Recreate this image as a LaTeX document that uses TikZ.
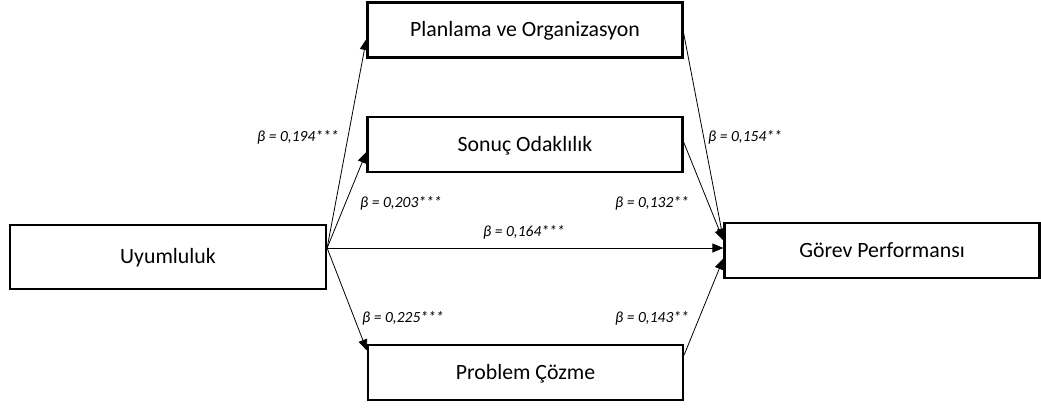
\documentclass[tikz,border=0pt]{standalone}
\usepackage{fontspec}
\setmainfont{Carlito}
\usetikzlibrary{arrows.meta}
\begin{document}
\begin{tikzpicture}[x=1pt,y=-1pt,
  box/.style={draw, line width=2.2pt, inner sep=0pt, minimum width=315pt, minimum height=55pt, text height=14pt, text depth=1pt, font=\fontsize{21.8}{25}\selectfont},
  conn/.style={-{Triangle[length=11pt,width=9pt]}, line width=0.8pt},
  lab/.style={font=\itshape\fontsize{15.5}{18}\selectfont, inner sep=0pt}]
\useasboundingbox (0,0) rectangle (1041,410);
\node[box, minimum height=64pt, minimum width=316pt] (U) at (168,257) {Uyumluluk};
\node[box] (P) at (525,30) {Planlama ve Organizasyon};
\node[box] (S) at (525,144.5) {Sonuç Odaklılık};
\node[box] (Pr) at (525.5,372.5) {Problem Çözme};
\node[box] (G) at (882,250.5) {Görev Performansı};
\coordinate (o) at ([yshift=9pt]U.east);
\draw[conn] (o) -- ([yshift=-9pt]P.west);
\draw[conn] (o) -- ([yshift=-7.5pt]S.west);
\draw[conn] (o) -- ([yshift=2.5pt]G.west);
\draw[conn] (o) -- ([yshift=22pt]Pr.west);
\draw[conn] ([yshift=-3pt]P.east) -- ([yshift=11pt]G.west);
\draw[conn] ([yshift=2.5pt]S.east) -- ([yshift=10pt]G.west);
\draw[conn] ([yshift=17.5pt]Pr.east) -- ([yshift=-8pt]G.west);
\node[lab, anchor=west] (l1) at (257,137) {β = 0,194***};
\node[lab, anchor=west] (l2) at (360,203) {β = 0,203***};
\node[lab, anchor=west] (l3) at (708,137) {β = 0,154**};
\node[lab, anchor=west] (l4) at (615,203) {β = 0,132**};
\node[lab, anchor=west] (l5) at (483,232) {β = 0,164***};
\node[lab, anchor=west] (l6) at (362,318) {β = 0,225***};
\node[lab, anchor=west] (l7) at (615,318) {β = 0,143**};
\end{tikzpicture}
\end{document}
